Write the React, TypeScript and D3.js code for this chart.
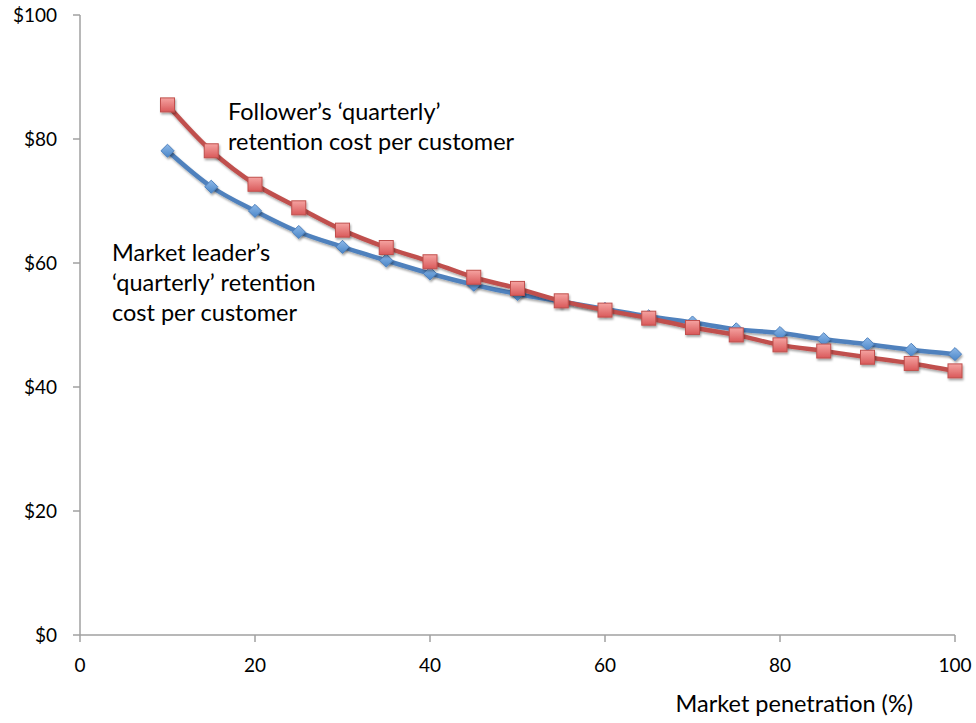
import React, { useEffect, useRef } from 'react';
import * as d3 from 'd3';

// market penetration (%)
const penetration = [10, 15, 20, 25, 30, 35, 40, 45, 50, 55, 60, 65, 70, 75, 80, 85, 90, 95, 100];
// market leader's quarterly retention cost per customer ($)
const leaderCost = [78.1, 72.3, 68.4, 65.0, 62.6, 60.4, 58.3, 56.5, 55.0, 53.8, 52.6, 51.4, 50.4, 49.3, 48.7, 47.7, 46.9, 46.0, 45.3];
// follower's quarterly retention cost per customer ($)
const followerCost = [85.5, 78.1, 72.7, 68.9, 65.3, 62.5, 60.2, 57.7, 55.9, 53.9, 52.4, 51.1, 49.6, 48.4, 46.8, 45.8, 44.8, 43.8, 42.6];

const xTicks = [0, 20, 40, 60, 80, 100];
const yTicks = [0, 20, 40, 60, 80, 100];

const leaderLabel = ["Market leader’s", "‘quarterly’ retention", "cost per customer"];
const followerLabel = ["Follower’s ‘quarterly’", "retention cost per customer"];

const W = 976;
const H = 723;
const FONT = "Lato, 'Open Sans', sans-serif";

const App = () => {
  const svgRef = useRef(null);

  useEffect(() => {
    const svg = d3.select(svgRef.current);
    svg.selectAll("*").remove();

    const x = d3.scaleLinear().domain([0, 100]).range([80, 955]);
    const y = d3.scaleLinear().domain([0, 100]).range([635, 15]);

    const defs = svg.append("defs");
    const redGrad = defs.append("linearGradient").attr("id", "redGrad")
      .attr("x1", 0).attr("y1", 0).attr("x2", 0).attr("y2", 1);
    redGrad.append("stop").attr("offset", "0%").attr("stop-color", "#F5A3A1");
    redGrad.append("stop").attr("offset", "100%").attr("stop-color", "#D9595A");
    const blueGrad = defs.append("linearGradient").attr("id", "blueGrad")
      .attr("x1", 0).attr("y1", 0).attr("x2", 0).attr("y2", 1);
    blueGrad.append("stop").attr("offset", "0%").attr("stop-color", "#8DB8E8");
    blueGrad.append("stop").attr("offset", "100%").attr("stop-color", "#4A86C8");
    const shadow = defs.append("filter").attr("id", "shadow")
      .attr("x", "-50%").attr("y", "-50%").attr("width", "200%").attr("height", "200%");
    shadow.append("feDropShadow").attr("dx", 1).attr("dy", 2).attr("stdDeviation", 1.2)
      .attr("flood-color", "#000").attr("flood-opacity", 0.35);

    // axes
    const axisColor = "#A0A0A0";
    svg.append("line").attr("x1", x(0)).attr("x2", x(0)).attr("y1", y(100)).attr("y2", y(0))
      .attr("stroke", axisColor).attr("stroke-width", 1.5);
    svg.append("line").attr("x1", x(0)).attr("x2", x(100)).attr("y1", y(0)).attr("y2", y(0))
      .attr("stroke", axisColor).attr("stroke-width", 1.5);

    svg.selectAll(".ytick").data(yTicks).enter().append("line")
      .attr("x1", x(0) - 7).attr("x2", x(0))
      .attr("y1", d => y(d)).attr("y2", d => y(d))
      .attr("stroke", axisColor).attr("stroke-width", 1.5);
    svg.selectAll(".ylab").data(yTicks).enter().append("text")
      .attr("x", 57).attr("y", d => y(d) + 7)
      .attr("text-anchor", "end").attr("font-family", FONT).attr("font-size", 19)
      .attr("fill", "#000").text(d => `$${d}`);

    svg.selectAll(".xtick").data(xTicks).enter().append("line")
      .attr("x1", d => x(d)).attr("x2", d => x(d))
      .attr("y1", y(0)).attr("y2", y(0) + 7)
      .attr("stroke", axisColor).attr("stroke-width", 1.5);
    svg.selectAll(".xlab").data(xTicks).enter().append("text")
      .attr("x", d => x(d)).attr("y", 672)
      .attr("text-anchor", "middle").attr("font-family", FONT).attr("font-size", 19)
      .attr("fill", "#000").text(d => d);

    svg.append("text").attr("x", 913).attr("y", 712)
      .attr("text-anchor", "end").attr("font-family", FONT).attr("font-size", 23.5)
      .text("Market penetration (%)");

    const line = d3.line<number>()
      .x((d, i) => x(penetration[i]))
      .y(d => y(d))
      .curve(d3.curveCatmullRom.alpha(0.5));

    // leader line + diamonds
    svg.append("path").attr("d", line(leaderCost)).attr("fill", "none")
      .attr("stroke", "#4F81BD").attr("stroke-width", 4.5).attr("filter", "url(#shadow)");
    const diamond = d3.symbol().type(d3.symbolDiamond2).size(110);
    svg.selectAll(".lead").data(leaderCost).enter().append("path")
      .attr("d", diamond)
      .attr("transform", (d, i) => `translate(${x(penetration[i])},${y(d)})`)
      .attr("fill", "url(#blueGrad)").attr("stroke", "#4F81BD").attr("stroke-width", 1)
      .attr("filter", "url(#shadow)");

    // follower line + squares
    svg.append("path").attr("d", line(followerCost)).attr("fill", "none")
      .attr("stroke", "#C0504D").attr("stroke-width", 4.5).attr("filter", "url(#shadow)");
    const sq = 14;
    svg.selectAll(".fol").data(followerCost).enter().append("rect")
      .attr("x", (d, i) => x(penetration[i]) - sq / 2)
      .attr("y", d => y(d) - sq / 2)
      .attr("width", sq).attr("height", sq)
      .attr("fill", "url(#redGrad)").attr("stroke", "#C0504D").attr("stroke-width", 1)
      .attr("filter", "url(#shadow)");

    // annotations
    svg.append("text").attr("font-family", FONT).attr("font-size", 23.5).attr("fill", "#000")
      .selectAll("tspan").data(followerLabel).enter().append("tspan")
      .attr("x", 228).attr("y", (d, i) => 120 + i * 30).text(d => d);
    svg.append("text").attr("font-family", FONT).attr("font-size", 23.5).attr("fill", "#000")
      .selectAll("tspan").data(leaderLabel).enter().append("tspan")
      .attr("x", 112).attr("y", (d, i) => 261 + i * 30).text(d => d);
  }, []);

  return (
    <svg
      ref={svgRef}
      width={W}
      height={H}
      style={{ position: "absolute", left: 0, top: 0, background: "#fff" }}
    />
  );
};

export default App;
